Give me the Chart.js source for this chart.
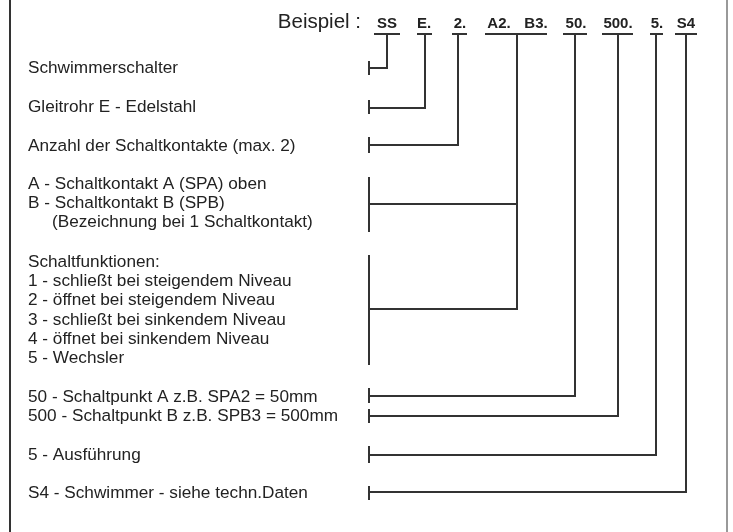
<!DOCTYPE html>
<html>
<head>
<meta charset="utf-8">
<script src="https://cdn.jsdelivr.net/npm/chart.js@4/dist/chart.umd.min.js"></script>
<style>
  body { margin: 0; background: #fff; }
</style>
</head>
<body>
<canvas id="typeCode" width="733" height="532"></canvas>
<script>
// data

// header code, one entry per code part
const codes = ["SS", "E.", "2.", "A2.", "B3.", "50.", "500.", "5.", "S4"];
const codeX = [387, 424, 460, 499, 536, 576, 618, 657, 686];

// underline groups (A2. B3. share one)
const groupFrom = [374, 417, 452, 485, 563, 602, 650, 675];
const groupTo = [400, 432, 467, 547, 587, 633, 663, 697];
const stemX = [387, 425, 458, 517, 575, 618, 656, 686];

// rows on the left: which group they belong to, where the link sits
const rowGroup = [0, 1, 2, 3, 3, 4, 5, 6, 7];
const rowY = [68, 108, 145, 204, 309, 396, 416, 455, 492];
const bracketTop = [61, 100, 137, 177, 255, 388, 409, 446, 486];
const bracketBottom = [75, 114, 153, 232, 365, 403, 423, 463, 500];

// description texts, "\t" = indented line
const rowText = [
  ["Schwimmerschalter"],
  ["Gleitrohr E - Edelstahl"],
  ["Anzahl der Schaltkontakte (max. 2)"],
  ["A - Schaltkontakt A (SPA) oben", "B - Schaltkontakt B (SPB)", "\t(Bezeichnung bei 1 Schaltkontakt)"],
  ["Schaltfunktionen:", "1 - schließt bei steigendem Niveau", "2 - öffnet bei steigendem Niveau",
   "3 - schließt bei sinkendem Niveau", "4 - öffnet bei sinkendem Niveau", "5 - Wechsler"],
  ["50 - Schaltpunkt A z.B. SPA2 = 50mm"],
  ["500 - Schaltpunkt B z.B. SPB3 = 500mm"],
  ["5 - Ausführung"],
  ["S4 - Schwimmer - siehe techn.Daten"],
];
const rowTextY = [68, 107, 146, 184, 262, 397, 416, 455, 493];

const headerLabel = "Beispiel :";
const underlineY = 34;
const bracketX = 369;
const textX = 28;
const lineGap = 19.3;
const ink = "#333333";

// build line datasets from the arrays
function lineSet(points) {
  return {
    data: points,
    showLine: true,
    borderColor: ink,
    borderWidth: 2,
    pointRadius: 0,
    tension: 0,
    spanGaps: false,
    borderJoinStyle: "miter",
  };
}

let datasets = [];

// underlines
groupFrom.forEach((x0, i) => {
  datasets.push(lineSet([{ x: x0, y: underlineY }, { x: groupTo[i], y: underlineY }]));
});

// brackets and links
rowY.forEach((y, i) => {
  datasets.push(lineSet([{ x: bracketX, y: bracketTop[i] }, { x: bracketX, y: bracketBottom[i] }]));
  const g = rowGroup[i];
  datasets.push(lineSet([{ x: bracketX, y: y }, { x: stemX[g], y: y }, { x: stemX[g], y: underlineY }]));
});

// text + frame drawn through the scales
const textPlugin = {
  id: "textPlugin",
  afterDatasetsDraw(chart) {
    const ctx = chart.ctx;
    const sx = chart.scales.x;
    const sy = chart.scales.y;
    ctx.save();

    // frame sides
    ctx.strokeStyle = ink;
    ctx.lineWidth = 2;
    ctx.beginPath();
    ctx.moveTo(sx.getPixelForValue(10), 0);
    ctx.lineTo(sx.getPixelForValue(10), chart.height);
    ctx.stroke();
    ctx.strokeStyle = "#777";
    ctx.lineWidth = 1.5;
    ctx.beginPath();
    ctx.moveTo(sx.getPixelForValue(727), 0);
    ctx.lineTo(sx.getPixelForValue(727), chart.height);
    ctx.stroke();

    ctx.fillStyle = "#222";
    ctx.textBaseline = "alphabetic";

    // header
    ctx.font = "20.5px 'Liberation Sans', Arial, sans-serif";
    ctx.textAlign = "right";
    ctx.fillText(headerLabel, sx.getPixelForValue(361), sy.getPixelForValue(28));

    ctx.font = "bold 15px 'Liberation Sans', Arial, sans-serif";
    ctx.textAlign = "center";
    codes.forEach((c, i) => {
      ctx.fillText(c, sx.getPixelForValue(codeX[i]), sy.getPixelForValue(28));
    });

    // descriptions
    ctx.font = "17.2px 'Liberation Sans', Arial, sans-serif";
    ctx.textAlign = "left";
    ctx.textBaseline = "middle";
    rowText.forEach((lines, i) => {
      lines.forEach((t, j) => {
        let x = textX;
        if (t.startsWith("\t")) {
          x += 24;
          t = t.slice(1);
        }
        ctx.fillText(t, sx.getPixelForValue(x), sy.getPixelForValue(rowTextY[i] + j * lineGap));
      });
    });
    ctx.restore();
  },
};

let chart = new Chart(document.getElementById("typeCode").getContext("2d"), {
  type: "scatter",
  data: { datasets: datasets },
  options: {
    responsive: false,
    animation: false,
    events: [],
    layout: { padding: 0 },
    scales: {
      x: { type: "linear", min: 0, max: 733, display: false },
      y: { type: "linear", min: 0, max: 532, reverse: true, display: false },
    },
    plugins: {
      legend: { display: false },
      tooltip: { enabled: false },
    },
  },
  plugins: [textPlugin],
});
</script>
</body>
</html>
